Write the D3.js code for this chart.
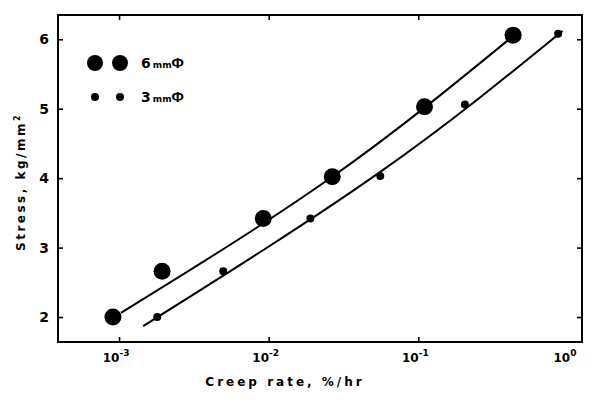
<!DOCTYPE html>
<html>
<head>
<meta charset="utf-8">
<script src="https://cdn.jsdelivr.net/npm/d3@7"></script>
<style>
  body { margin: 0; background: #fff; }
  text { font-family: "DejaVu Sans", sans-serif; font-weight: bold; fill: #000; }
</style>
</head>
<body>
<svg id="chart" width="599" height="402"></svg>
<script>
// creep rate (%/hr) vs stress (kg/mm2)
var rate6 = [0.00091, 0.00194, 0.0092, 0.0266, 0.11, 0.43]
var stress6 = [2.0, 2.66, 3.42, 4.02, 5.03, 6.06]
var rate3 = [0.0018, 0.00497, 0.019, 0.0557, 0.205, 0.86]
var stress3 = [2.0, 2.66, 3.42, 4.03, 5.06, 6.08]

// the drawn curves (hand fitted lines in the figure)
var fitRate6 = [0.00103, 0.0266, 0.41]
var fitStress6 = [2.06, 4.02, 6.01]
var fitRate3 = [0.00145, 0.0557, 0.92]
var fitStress3 = [1.87, 4.09, 6.12]

var xTicks = [1e-3, 1e-2, 1e-1]
var xLabels = [{v: 1e-3, e: "-3"}, {v: 1e-2, e: "-2"}, {v: 1e-1, e: "-1"}, {v: 1, e: "0"}]
var yTicks = [2, 3, 4, 5, 6]

var svg = d3.select("#chart")

var x = d3.scaleLog()
    .domain([Math.pow(10, -3.408), Math.pow(10, 0.094)])
    .range([58, 582])
var y = d3.scaleLinear()
    .domain([1.64, 6.35])
    .range([342, 15])

function zip(a, b) {
  return a.map(function(d, i) { return {r: d, s: b[i]} })
}

// frame
svg.append("rect")
    .attr("x", 58).attr("y", 15)
    .attr("width", 582 - 58).attr("height", 342 - 15)
    .attr("fill", "none")
    .attr("stroke", "#000")
    .attr("stroke-width", 2)

// inward ticks on all four sides
function tickAxis(axis, tx, ty) {
  var g = svg.append("g").attr("transform", "translate(" + tx + "," + ty + ")").call(axis)
  g.select(".domain").remove()
  g.selectAll(".tick line").attr("stroke", "#000").attr("stroke-width", 1.6)
  g.selectAll(".tick text").remove()
}
tickAxis(d3.axisBottom(x).tickValues(xTicks).tickSize(-5), 0, 342)
tickAxis(d3.axisTop(x).tickValues(xTicks).tickSize(-5), 0, 15)
tickAxis(d3.axisLeft(y).tickValues(yTicks).tickSize(-5), 58, 0)
tickAxis(d3.axisRight(y).tickValues(yTicks).tickSize(-5), 582, 0)

// x tick labels 10^n
var xl = svg.selectAll(".xlab").data(xLabels).enter().append("text")
    .attr("class", "xlab")
    .attr("x", function(d) { return x(d.v) - 3 })
    .attr("y", 362)
    .attr("text-anchor", "middle")
    .style("font-size", "12px")
xl.append("tspan").text("10")
xl.append("tspan").attr("dy", -6).style("font-size", "9px").text(function(d) { return d.e })

// y tick labels
svg.selectAll(".ylab").data(yTicks).enter().append("text")
    .attr("class", "ylab")
    .attr("x", 49)
    .attr("y", function(d) { return y(d) + 5 })
    .attr("text-anchor", "end")
    .style("font-size", "14px")
    .text(function(d) { return d })

// axis titles
svg.append("text")
    .attr("x", 285).attr("y", 386)
    .attr("text-anchor", "middle")
    .style("font-size", "12px")
    .style("letter-spacing", "3px")
    .text("Creep rate, %/hr")

var yt = svg.append("text")
    .attr("transform", "translate(25,182) rotate(-90)")
    .attr("text-anchor", "middle")
    .style("font-size", "12px")
    .style("letter-spacing", "2.5px")
yt.append("tspan").text("Stress, kg/mm")
yt.append("tspan").attr("dy", -5).style("font-size", "8px").text("2")

// fitted curves
var line = d3.line()
    .x(function(d) { return x(d.r) })
    .y(function(d) { return y(d.s) })
    .curve(d3.curveNatural)

svg.append("path").datum(zip(fitRate6, fitStress6))
    .attr("d", line).attr("fill", "none").attr("stroke", "#000").attr("stroke-width", 2)
svg.append("path").datum(zip(fitRate3, fitStress3))
    .attr("d", line).attr("fill", "none").attr("stroke", "#000").attr("stroke-width", 2)

// points
svg.selectAll(".p6").data(zip(rate6, stress6)).enter().append("circle")
    .attr("class", "p6")
    .attr("cx", function(d) { return x(d.r) })
    .attr("cy", function(d) { return y(d.s) })
    .attr("r", 8.5)
    .attr("fill", "#000")
svg.selectAll(".p3").data(zip(rate3, stress3)).enter().append("circle")
    .attr("class", "p3")
    .attr("cx", function(d) { return x(d.r) })
    .attr("cy", function(d) { return y(d.s) })
    .attr("r", 4)
    .attr("fill", "#000")

// legend
var legend = [{label: "6", r: 8, y: 63}, {label: "3", r: 4, y: 97}]
var lg = svg.selectAll(".leg").data(legend).enter().append("g").attr("class", "leg")
lg.append("circle").attr("cx", 95).attr("cy", function(d) { return d.y }).attr("r", function(d) { return d.r }).attr("fill", "#000")
lg.append("circle").attr("cx", 120).attr("cy", function(d) { return d.y }).attr("r", function(d) { return d.r }).attr("fill", "#000")
var lt = lg.append("text").attr("x", 141).attr("y", function(d) { return d.y + 5 })
lt.append("tspan").style("font-size", "14px").text(function(d) { return d.label })
lt.append("tspan").attr("dx", 2).style("font-size", "9px").text("mm")
lt.append("tspan")
    .style("font-size", "15px")
    .style("font-family", "'Liberation Sans', sans-serif")
    .style("fill", "#000")
    .text("Φ")
</script>
</body>
</html>
